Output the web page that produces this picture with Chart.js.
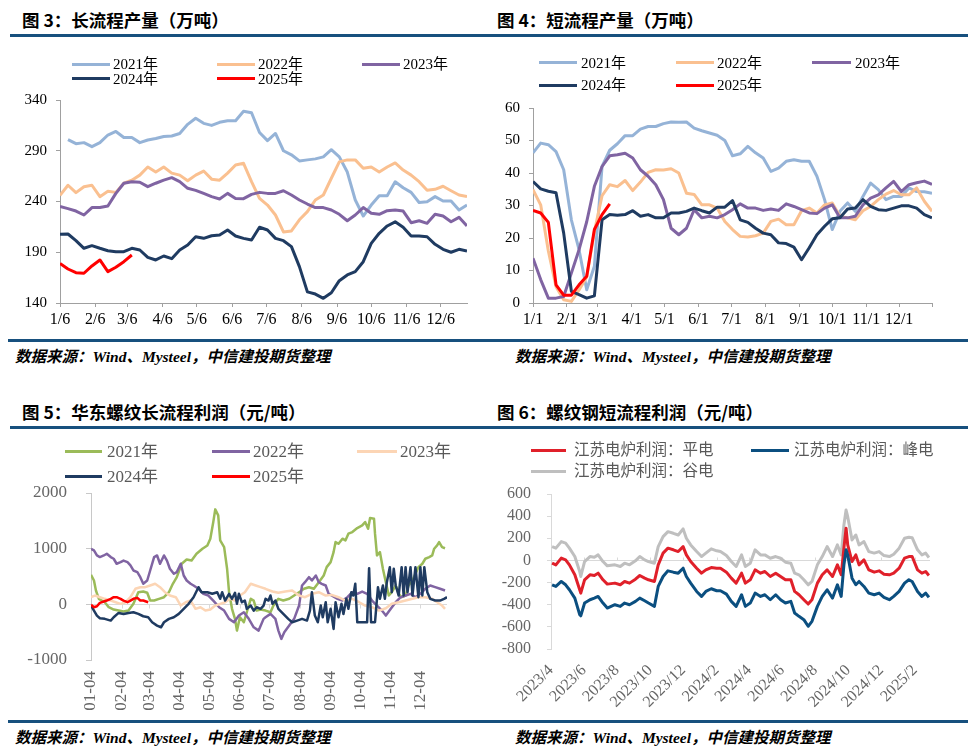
<!DOCTYPE html>
<html><head><meta charset="utf-8">
<script src="https://cdn.jsdelivr.net/npm/chart.js@4.4.1/dist/chart.umd.min.js"></script>
<style>
html,body{margin:0;padding:0;background:#fff;}
#page{position:relative;width:968px;height:751px;overflow:hidden;background:#fff;}
.title{position:absolute;font-family:"Noto Sans CJK SC","Noto Sans",sans-serif;font-weight:700;font-size:17.5px;line-height:18px;color:#000;white-space:nowrap;}
.rule{position:absolute;height:3px;background:#17507e;}
.src{position:absolute;font-family:"Liberation Serif","Noto Sans CJK SC",serif;font-style:italic;font-weight:700;font-size:15.5px;line-height:18px;color:#000;white-space:nowrap;}
canvas{position:absolute;}
.lgt{position:absolute;white-space:nowrap;font-family:"Liberation Serif","Noto Sans CJK SC",serif;}
</style></head>
<body><div id="page">
<div class="title" style="left:22px;top:11px;">图 3：长流程产量（万吨）</div>
<div class="title" style="left:497px;top:11px;">图 4：短流程产量（万吨）</div>
<div class="title" style="left:22px;top:403px;">图 5：华东螺纹长流程利润（元/吨）</div>
<div class="title" style="left:497px;top:403px;">图 6：螺纹钢短流程利润（元/吨）</div>
<div class="rule" style="left:10px;width:958px;top:34px;"></div>
<div class="rule" style="left:8px;width:960px;top:339px;"></div>
<div class="rule" style="left:10px;width:958px;top:426px;"></div>
<div class="rule" style="left:8px;width:960px;top:720px;"></div>
<div class="src" style="left:15px;top:348px;">数据来源：Wind、Mysteel，中信建投期货整理</div>
<div class="src" style="left:515px;top:348px;">数据来源：Wind、Mysteel，中信建投期货整理</div>
<div class="src" style="left:15px;top:729px;">数据来源：Wind、Mysteel，中信建投期货整理</div>
<div class="src" style="left:515px;top:729px;">数据来源：Wind、Mysteel，中信建投期货整理</div>
<canvas id="c1"></canvas><canvas id="c2"></canvas><canvas id="c3"></canvas><canvas id="c4"></canvas>
</div>
<script>
// ---------------- DATA ----------------
// Panel 1: long-process output (weekly, from 1/6), 万吨
const p1TickLabels = ['1/6','2/6','3/6','4/6','5/6','6/6','7/6','8/6','9/6','10/6','11/6','12/6'];
const p1Y2021 = [null,301,297,298,294,298,305.5,309,303,303,298,300.6,302,304,304.5,307,316,322,317,315,318,319.6,319.6,329,327.5,308,300,307,290,286,280,281,282,284,291,284,269,241.5,225.7,236.5,245.7,245.7,259.5,253.6,249,239,239.8,244.8,240.5,240.5,231.6,236.5];
const p1Y2022 = [246,256,248.7,254.6,256,244.8,250,249,258,261,266,274,269,274,268,266,260.5,266,270,262,261,268,276,277.6,259.5,243,236.5,226.7,210,211,222,230,241.5,246.4,262.9,279,281,281,272.7,274,269,274,278,271,266,259.5,251,252,255,250.6,246.4,244.8];
const p1Y2023 = [235,233,230.6,226.7,234,234,235.6,248,258,259.5,259,254.6,258,261,263.5,259.5,253,251,248,244.8,242.5,248,243,242.8,247,249,248,248,250.6,246.4,241.5,237.5,234,234,231.6,227.4,221,226.7,234,228.4,227.4,231,231.6,230.6,219.1,221,218.5,227.4,225.7,220,224.4,216];
const p1Y2024 = [207.7,208,201.4,193.9,196.5,193.9,191.5,190.5,190.5,193.9,192.2,185,182.4,186.3,183.7,192.2,197.1,205.3,203.7,206.3,207,211.9,206,203.7,202,214.6,211.9,203.7,201.4,195.5,175.8,151,148.8,144.6,150.1,162,167.6,170.9,180.7,198.8,208.7,215.9,220,214.6,206,206,205.3,197.8,192.9,190,192.9,191.2];
const p1Y2025 = [179,173.5,169.9,169.3,176.5,182.4,170.9,175.2,180.7,187.3];

// Panel 2: short-process output (weekly, from 1/1), 万吨
const p2TickLabels = ['1/1','2/1','3/1','4/1','5/1','6/1','7/1','8/1','9/1','10/1','11/1','12/1'];
const p2Y2021 = [46.2,49.2,48.7,46.6,41,25.6,16.4,4.1,11.3,42,47,49,51.5,51.5,53.5,54.3,54.3,55.2,55.7,55.6,55.7,53.8,53,52.3,51.6,50,45.3,45.9,48.2,46.2,44.6,40.5,41.5,43.6,44.1,43.6,43.6,39,31.8,22.6,28.2,30.8,28.2,32.8,36.9,34.9,31.8,32.8,32.8,35.4,34.3,34.2,33.8];
const p2Y2022 = [34.9,30.2,16,5,1,0.5,4,8,22,33,36.4,35.8,37.7,34.6,37.2,40.2,41,40.9,41.3,40,33.8,33.4,30.2,30.2,29.2,25.1,22.6,20.5,20.3,20.7,21.5,25.1,25.8,24.1,24.1,28.4,29.2,27.7,30.2,30.8,26.7,26.2,25.6,28.4,29.7,31.8,33.5,34.6,33.3,33.3,35.4,31.3,28.2];
const p2Y2023 = [13.8,7.2,1.5,1.5,2,9.2,16.4,25,35.9,42,45.3,45.6,46.1,44.6,41,39,36.4,31.8,23,21,23,28.7,26.2,26.7,26.2,27.2,28.7,30.5,29.2,29.2,28.5,28.9,28.5,30.5,29.7,28.7,27.7,27.5,29.2,30.2,26.2,26.2,26.7,30.2,32.3,33.3,35.4,37.4,34.3,36.4,37,37.5,36.5];
const p2Y2024 = [37.4,35.1,34.4,33.9,21.5,3.6,2.6,1.5,2.2,25.6,27.2,27,27.2,28.4,26.7,27.2,26.2,26.2,27.7,27.7,28.2,29.2,28.4,27.7,29.5,29.5,31.5,25.6,24.8,23,21.5,21,18.5,18.3,17.2,13.3,17,21,23.6,25.9,26.2,28.9,29.2,31.8,29.7,28.7,28.5,29.2,29.9,29.9,29.2,27.2,26.2];
const p2Y2025 = [28.5,27.7,24.8,5.6,2.4,2.4,5.6,8.2,22.6,27.2,30.5];

// Panel 3: East China rebar long-process profit (day of year), 元/吨
const p3TickLabels = ['01-04','02-04','03-04','04-04','05-04','06-04','07-04','08-04','09-04','10-04','11-04','12-04'];
const p3D2021 = [4,7,9,12,15,18,22,27,32,37,42,47,52,57,61,64,68,73,78,83,87,91,96,101,106,111,117,122,125,128,130,133,135,139,142,144,147,150,152,155,159,162,166,169,172,176,181,186,189,194,199,205,210,215,220,225,230,235,240,243,247,250,252,255,259,262,265,269,274,279,282,285,287,291,292,294,297,300,303,306,309,313,316,319,323,326,330,333,336,340,343,347,350,352,355,357,360,363];
const p3V2021 = [531,428,248,99,68,38,-52,-94,-112,-130,-112,9,218,230,207,68,68,99,128,218,369,488,729,806,786,909,999,1058,1179,1478,1706,1598,1148,1028,639,218,-81,-261,-472,-232,-322,-142,99,68,-112,-94,-112,-142,-22,99,68,99,158,218,279,308,279,398,518,668,758,938,1118,1088,1179,1148,1269,1298,1370,1418,1478,1358,1550,1538,1269,878,938,639,398,158,218,338,188,128,158,338,428,549,668,729,819,849,878,999,1058,1118,1028,1008];
const p3D2022 = [4,7,10,13,17,20,24,27,30,34,37,41,44,47,51,54,57,61,64,68,71,74,78,81,84,88,91,95,98,101,105,108,113,118,123,128,134,139,144,149,154,159,164,169,174,179,181,186,191,194,197,200,205,210,215,218,221,225,228,232,235,238,242,245,248,254,259,264,269,274,279,284,289,294,299,303,308,313,318,323,328,333,338,343,348,353,358,363];
const p3V2022 = [999,969,878,849,878,909,849,819,729,758,786,758,699,608,579,488,369,428,608,849,878,729,878,786,639,549,579,729,518,428,369,338,279,189,158,68,-52,-112,-261,-322,-202,-142,-261,-412,-472,-261,-232,-172,-261,-472,-621,-502,-382,-261,-22,338,398,488,428,518,398,369,338,189,158,99,68,128,218,189,230,189,68,-22,-112,-202,-81,38,128,158,189,128,189,279,338,308,279,248];
const p3D2023 = [4,8,13,18,24,29,34,39,44,49,54,59,64,69,74,79,84,90,95,100,105,110,115,120,125,130,135,140,145,150,155,160,166,171,176,181,188,194,201,208,215,221,228,235,242,248,255,262,269,276,282,289,296,303,309,316,323,330,336,343,350,355,360,363];
const p3V2023 = [128,158,128,99,68,38,9,38,128,279,308,308,338,369,308,218,158,128,-22,38,68,-81,-52,-112,-94,-22,9,38,99,68,158,218,369,338,308,279,230,207,230,248,158,128,189,218,158,170,128,68,99,38,-22,-52,-112,-70,9,38,68,99,128,128,99,38,-22,-81];
const p3D2024 = [4,7,10,13,18,24,27,32,37,42,47,52,57,62,66,71,75,78,83,88,93,98,103,108,113,116,122,127,132,135,137,140,144,147,150,152,154,157,160,162,166,169,172,176,179,181,184,186,188,191,194,199,204,208,213,218,223,226,228,231,234,237,239,242,244,247,250,252,255,258,260,263,265,268,270,272,274,279,284,286,288,292,295,297,300,302,304,307,309,311,313,316,319,321,323,325,328,330,333,336,338,340,342,345,348,353,358,362,365];
const p3V2024 = [-22,-112,-202,-250,-261,-292,-232,-154,-172,-154,-142,-172,-214,-232,-322,-382,-412,-322,-261,-232,-172,-81,9,128,308,218,218,189,218,99,218,68,189,99,207,9,189,38,68,-81,-22,-112,-52,-81,-22,99,68,158,9,68,-81,-172,-261,-322,-292,-261,-292,-112,218,-202,-322,-22,-232,38,-322,-81,-442,38,-232,9,-172,99,-81,218,158,369,-322,-322,-322,650,-322,-322,308,99,338,99,398,668,218,639,338,158,668,158,668,218,668,158,668,128,668,158,668,218,99,68,68,99,128];
const p3D2025 = [4,7,10,13,17,20,24,27,30,34,37,41,44,47,51,54,57,62];
const p3V2025 = [-9,-52,-34,27,50,68,99,128,128,99,68,38,68,99,116,68,68,38];

// Panel 4: Jiangsu EAF rebar profit (daily samples), 元/吨
const p4TickLabels = ['2023/4','2023/6','2023/8','2023/10','2023/12','2024/2','2024/4','2024/6','2024/8','2024/10','2024/12','2025/2'];
const p4Dates = ['2023-04-03','2023-04-10','2023-04-20','2023-04-28','2023-05-05','2023-05-15','2023-05-24','2023-05-26','2023-06-02','2023-06-12','2023-06-20','2023-06-27','2023-07-06','2023-07-14','2023-07-28','2023-08-07','2023-08-15','2023-08-24','2023-09-04','2023-09-12','2023-09-21','2023-09-28','2023-10-09','2023-10-16','2023-10-25','2023-11-03','2023-11-13','2023-11-22','2023-12-01','2023-12-07','2023-12-15','2023-12-26','2024-01-04','2024-01-12','2024-01-22','2024-02-01','2024-02-08','2024-02-19','2024-02-28','2024-03-08','2024-03-18',
 '2024-03-25','2024-04-03','2024-04-12','2024-04-22','2024-04-30','2024-05-10','2024-05-20','2024-05-29','2024-06-07','2024-06-17','2024-06-24','2024-07-02','2024-07-11','2024-07-19','2024-07-26','2024-08-05','2024-08-14','2024-08-23','2024-09-02','2024-09-11','2024-09-18','2024-09-23','2024-09-27','2024-09-30','2024-10-08','2024-10-15','2024-10-21','2024-10-30','2024-11-08','2024-11-18','2024-11-27','2024-12-06','2024-12-16','2024-12-24','2025-01-03','2025-01-13','2025-01-21','2025-01-27','2025-02-06','2025-02-14','2025-02-21','2025-02-27'];
const p4Flat = [-24,-40,21,5,-40,-130,-265,-295,-175,-130,-136,-115,-175,-214,-205,-220,-190,-205,-169,-136,-160,-175,-190,-40,66,111,96,80,125,50,-10,-70,-115,-85,-64,-70,-70,-106,-160,-205,-115,
 -205,-175,-85,-115,-100,-145,-115,-145,-175,-175,-280,-310,-355,-394,-355,-205,-130,-85,-145,-40,-130,111,291,140,-10,50,-40,5,-85,-106,-94,-124,-130,-115,-70,21,35,35,-85,-115,-100,-136];
const p4Peak = [-220,-235,-190,-220,-265,-340,-490,-500,-385,-355,-340,-325,-385,-430,-400,-415,-385,-400,-370,-340,-364,-385,-415,-235,-145,-94,-106,-115,-70,-145,-205,-280,-325,-280,-256,-274,-274,-304,-370,-415,-310,
 -415,-385,-295,-325,-310,-355,-310,-355,-385,-370,-475,-505,-535,-595,-550,-415,-325,-265,-340,-220,-325,-40,96,50,-160,-220,-190,-235,-295,-310,-295,-334,-355,-325,-280,-205,-175,-190,-280,-325,-295,-334];
const p4Valley = [125,111,170,156,111,35,-100,-145,-10,35,29,50,-10,-49,-40,-55,-25,-40,-4,35,5,-10,-25,125,215,260,245,230,285,200,140,80,35,66,105,87,80,44,-10,-55,50,
 -55,-25,96,50,50,20,35,20,-16,-25,-115,-130,-175,-220,-190,-40,35,125,35,140,50,320,455,395,185,230,140,170,80,66,80,44,35,56,111,200,210,205,96,50,66,26];

// ---------------- HELPERS ----------------
const SERIF = '"Liberation Serif","Noto Sans CJK SC",serif';
Chart.defaults.font.family = SERIF;
Chart.defaults.color = '#000';
const DAY = 86400000;
function dayDiff(y1,m1,d1,y2,m2,d2){ return Math.round((Date.UTC(y2,m2-1,d2)-Date.UTC(y1,m1-1,d1))/DAY); }
function weekly(vals){ return vals.map((v,i)=>({x:i*7,y:v})); }
function paired(days, vals){ return days.map((d,i)=>({x:d,y:vals[i]})); }
const plain = v => String(v);

function place(canvas, b){
  const w = b.yW + (b.R - b.L) + b.pr;
  const h = b.pt + (b.B - b.T) + b.xH;
  canvas.width = w; canvas.height = h;
  canvas.style.left = (b.L - b.yW)+'px';
  canvas.style.top = (b.T - b.pt)+'px';
  canvas.style.width = w+'px'; canvas.style.height = h+'px';
}

function addLegend(items, size, fc){
  const page = document.getElementById('page');
  items.forEach(it=>{
    const sw = document.createElement('div');
    sw.style.cssText = `position:absolute;left:${it.x1}px;top:${it.y-1.5}px;width:${it.x2-it.x1}px;height:3px;background:${it.color};`;
    page.appendChild(sw);
    const t = document.createElement('div');
    t.className = 'lgt';
    t.textContent = it.text;
    t.style.cssText = `left:${it.tx}px;top:${it.y - size*0.6}px;font-size:${size}px;line-height:${size*1.2}px;color:${fc};`;
    page.appendChild(t);
  });
}

const zeroLine = {
  id:'zeroLine',
  beforeDatasetsDraw(chart, args, opts){
    const {ctx, chartArea:a, scales:{x,y}} = chart;
    const y0 = Math.round(y.getPixelForValue(0))+0.5;
    ctx.save(); ctx.strokeStyle = opts.color; ctx.lineWidth = 1;
    ctx.beginPath(); ctx.moveTo(a.left,y0); ctx.lineTo(a.right,y0);
    x.ticks.forEach(t=>{ const px = Math.round(x.getPixelForValue(t.value))+0.5; ctx.moveTo(px,y0); ctx.lineTo(px,y0+opts.tick); });
    ctx.stroke(); ctx.restore();
  }
};

function ds(label, data, color, width, order){
  return {label, data, borderColor:color, backgroundColor:color, borderWidth:width, pointRadius:0, tension:0, fill:false, order, borderJoinStyle:'round', spanGaps:false};
}

function makeChart(id, b, datasets, xOpt, yOpt, extra){
  const cv = document.getElementById(id);
  place(cv, b);
  xOpt.afterFit = s=>{ s.height = b.xH; };
  yOpt.afterFit = s=>{ s.width = b.yW; };
  return new Chart(cv, {
    type:'line',
    data:{datasets},
    options:{
      responsive:false, devicePixelRatio:1, animation:false, events:[],
      layout:{padding:{top:b.pt,right:b.pr,left:0,bottom:0}},
      plugins:Object.assign({legend:{display:false},tooltip:{enabled:false}}, extra && extra.plugOpts || {}),
      scales:{x:xOpt, y:yOpt}
    },
    plugins: extra && extra.plugins || []
  });
}

// ---------------- PANEL 1 ----------------
const C21='#95B3D7', C22='#FAC090', C23='#8064A2', C24='#1F3B61', C25='#FF0000';
const p1TickDays = p1TickLabels.map(s=>{const [m,d]=s.split('/').map(Number); return dayDiff(2021,1,6,2021,m,d);});
makeChart('c1', {L:60,R:467,T:100,B:303,yW:50,xH:32,pt:32,pr:12}, [
  ds('2021年', weekly(p1Y2021), C21, 3, 4),
  ds('2022年', weekly(p1Y2022), C22, 3, 3),
  ds('2023年', weekly(p1Y2023), C23, 3, 2),
  ds('2024年', weekly(p1Y2024), C24, 3, 1),
  ds('2025年', weekly(p1Y2025), C25, 3, 0)
], {
  type:'linear', min:0, max:(p1Y2022.length-1)*7,
  afterBuildTicks:s=>{ s.ticks = p1TickDays.map(v=>({value:v})); },
  ticks:{autoSkip:false, maxRotation:0, minRotation:0, padding:3, color:'#000', font:{size:16}, callback:(v)=>p1TickLabels[p1TickDays.indexOf(v)]},
  grid:{display:true, drawOnChartArea:false, drawTicks:true, tickLength:4, tickColor:'#a0a0a0'},
  border:{display:true, color:'#a0a0a0', width:1}
}, {
  min:140, max:340,
  ticks:{stepSize:50, autoSkip:false, padding:9, color:'#000', font:{size:15}, callback:plain},
  grid:{display:true, drawOnChartArea:false, drawTicks:true, tickLength:4, tickColor:'#a0a0a0'},
  border:{display:true, color:'#a0a0a0', width:1}
});
addLegend([
  {text:'2021年', color:C21, x1:72, x2:110, tx:113, y:64},
  {text:'2022年', color:C22, x1:217, x2:255, tx:258, y:64},
  {text:'2023年', color:C23, x1:362, x2:400, tx:403, y:64},
  {text:'2024年', color:C24, x1:72, x2:110, tx:113, y:78.5},
  {text:'2025年', color:C25, x1:217, x2:255, tx:258, y:78.5}
], 15, '#000');

// ---------------- PANEL 2 ----------------
const p2TickDays = p2TickLabels.map(s=>{const [m,d]=s.split('/').map(Number); return dayDiff(2021,1,1,2021,m,d);});
const p2End = (p2Y2021.length-1)*7;
makeChart('c2', {L:533,R:932,T:108,B:303,yW:45,xH:32,pt:32,pr:14}, [
  ds('2021年', weekly(p2Y2021), C21, 3, 4),
  ds('2022年', weekly(p2Y2022), C22, 3, 3),
  ds('2023年', weekly(p2Y2023), C23, 3, 2),
  ds('2024年', weekly(p2Y2024), C24, 3, 1),
  ds('2025年', weekly(p2Y2025), C25, 3, 0)
], {
  type:'linear', min:0, max:p2End,
  afterBuildTicks:s=>{ s.ticks = p2TickDays.concat([p2End]).map(v=>({value:v})); },
  ticks:{autoSkip:false, maxRotation:0, minRotation:0, padding:3, color:'#000', font:{size:16}, callback:(v)=>{const i=p2TickDays.indexOf(v); return i<0?'':p2TickLabels[i];}},
  grid:{display:true, drawOnChartArea:false, drawTicks:true, tickLength:4, tickColor:'#a0a0a0'},
  border:{display:true, color:'#a0a0a0', width:1}
}, {
  min:0, max:60,
  ticks:{stepSize:10, autoSkip:false, padding:9, color:'#000', font:{size:15}, callback:plain},
  grid:{display:true, drawOnChartArea:false, drawTicks:true, tickLength:4, tickColor:'#a0a0a0'},
  border:{display:true, color:'#a0a0a0', width:1}
});
addLegend([
  {text:'2021年', color:C21, x1:539, x2:577, tx:581, y:62.7},
  {text:'2022年', color:C22, x1:676, x2:714, tx:717, y:62.7},
  {text:'2023年', color:C23, x1:812, x2:851, tx:855, y:62.7},
  {text:'2024年', color:C24, x1:539, x2:577, tx:581, y:85},
  {text:'2025年', color:C25, x1:676, x2:714, tx:717, y:85}
], 15, '#000');

// ---------------- PANEL 3 ----------------
const G21='#9BBB59', G22='#8064A2', G23='#FCD5B5', G24='#1F3B61', G25='#FF0000';
const p3TickDays = p3TickLabels.map(s=>{const [m,d]=s.split('-').map(Number); return dayDiff(2021,1,1,2021,m,d)+1;});
makeChart('c3', {L:91,R:447,T:493,B:660,yW:70,xH:58,pt:32,pr:10}, [
  ds('2021年', paired(p3D2021,p3V2021), G21, 2.5, 4),
  ds('2022年', paired(p3D2022,p3V2022), G22, 2.5, 3),
  ds('2023年', paired(p3D2023,p3V2023), G23, 2.5, 2),
  ds('2024年', paired(p3D2024,p3V2024), G24, 2.5, 1),
  ds('2025年', paired(p3D2025,p3V2025), G25, 2.5, 0)
], {
  type:'linear', min:4, max:365,
  afterBuildTicks:s=>{ s.ticks = p3TickDays.map(v=>({value:v})); },
  ticks:{autoSkip:false, maxRotation:90, minRotation:90, padding:11, color:'#666', font:{size:17}, callback:(v)=>p3TickLabels[p3TickDays.indexOf(v)]},
  grid:{display:false, drawTicks:false},
  border:{display:false}
}, {
  min:-1000, max:2000,
  ticks:{stepSize:1000, autoSkip:false, padding:19, color:'#666', font:{size:17}, callback:plain},
  grid:{display:true, drawOnChartArea:false, drawTicks:true, tickLength:5, tickColor:'#c8c8c8'},
  border:{display:true, color:'#c8c8c8', width:1}
}, {plugins:[zeroLine], plugOpts:{zeroLine:{color:'#d9d9d9', tick:4}}});
addLegend([
  {text:'2021年', color:G21, x1:65, x2:102, tx:107, y:451.7},
  {text:'2022年', color:G22, x1:212, x2:250, tx:253, y:451.7},
  {text:'2023年', color:G23, x1:357, x2:397, tx:400, y:451.7},
  {text:'2024年', color:G24, x1:65, x2:102, tx:107, y:476.7},
  {text:'2025年', color:G25, x1:212, x2:250, tx:253, y:476.7}
], 17, '#595959');

// ---------------- PANEL 4 ----------------
const R4='#E0202A', B4='#0B4F80', Y4='#BFBFBF';
const p4Day = s=>{const [y,m,d]=s.split(/[-\/]/).map(Number); return dayDiff(2023,4,1,y,m,d||1);};
const p4X = p4Dates.map(p4Day);
const p4TickDays = p4TickLabels.map(p4Day);
makeChart('c4', {L:551,R:930,T:494,B:649,yW:62,xH:66,pt:32,pr:12}, [
  ds('江苏电炉利润：平电', paired(p4X,p4Flat), R4, 3, 2),
  ds('江苏电炉利润：峰电', paired(p4X,p4Peak), B4, 3, 1),
  ds('江苏电炉利润：谷电', paired(p4X,p4Valley), Y4, 3, 3)
], {
  type:'linear', min:0, max:p4X[p4X.length-1]+2,
  afterBuildTicks:s=>{ s.ticks = p4TickDays.map(v=>({value:v})); },
  ticks:{autoSkip:false, maxRotation:45, minRotation:45, padding:12, color:'#666', font:{size:16}, callback:(v)=>p4TickLabels[p4TickDays.indexOf(v)]},
  grid:{display:false, drawTicks:false},
  border:{display:false}
}, {
  min:-800, max:600,
  ticks:{stepSize:200, autoSkip:false, padding:16, color:'#666', font:{size:16}, callback:plain},
  grid:{display:true, drawOnChartArea:false, drawTicks:true, tickLength:4, tickColor:'#d9d9d9'},
  border:{display:true, color:'#d9d9d9', width:1}
}, {plugins:[zeroLine], plugOpts:{zeroLine:{color:'#d9d9d9', tick:-3}}});
addLegend([
  {text:'江苏电炉利润：平电', color:R4, x1:531, x2:566, tx:574, y:450.7},
  {text:'江苏电炉利润：峰电', color:B4, x1:751, x2:789, tx:794, y:450.7},
  {text:'江苏电炉利润：谷电', color:Y4, x1:531, x2:566, tx:574, y:471}
], 15.5, '#595959');
</script>
</body></html>
